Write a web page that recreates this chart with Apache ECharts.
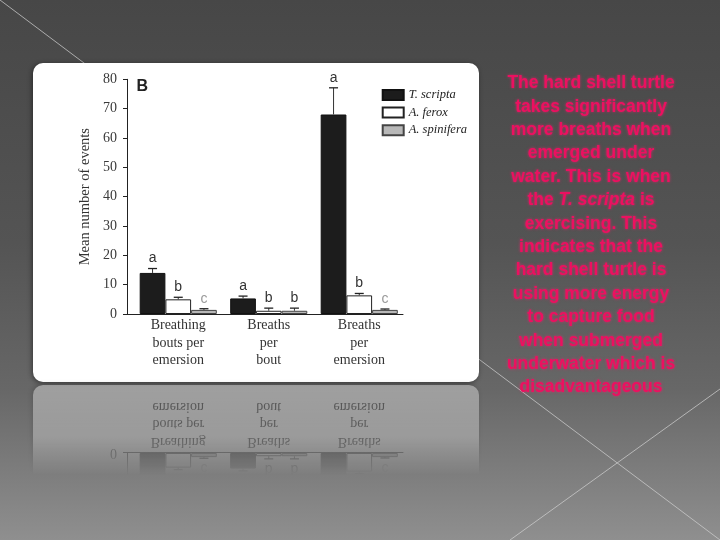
<!DOCTYPE html>
<html><head><meta charset="utf-8">
<script src="https://cdn.jsdelivr.net/npm/echarts@6/dist/echarts.min.js"></script>
<style>
html,body{margin:0;padding:0;width:720px;height:540px;overflow:hidden;background:#555}
#main{position:absolute;left:0;top:0;width:720px;height:540px}
#refl{position:absolute;left:0;top:0;width:720px;height:540px;transform-origin:0 383.5px;transform:scaleY(-1);opacity:0.38;pointer-events:none;
-webkit-mask-image:linear-gradient(to bottom, rgba(0,0,0,0) 0px, rgba(0,0,0,0) 292px, rgba(0,0,0,0.75) 330px, rgba(0,0,0,1) 383px);
mask-image:linear-gradient(to bottom, rgba(0,0,0,0) 0px, rgba(0,0,0,0) 292px, rgba(0,0,0,0.75) 330px, rgba(0,0,0,1) 383px);}
</style></head><body><div id="main"></div><div id="refl"></div>
<script>
// ---- data ----
const categories = ['Breathing\nbouts per\nemersion', 'Breaths\nper\nbout', 'Breaths\nper\nemersion'];
const seriesNames = ['T. scripta', 'A. ferox', 'A. spinifera'];
const tScripta = [14.0, 5.3, 68.0];
const aFerox = [5.0, 1.1, 6.35];
const aSpinifera = [1.4, 1.1, 1.4];
const tScriptaErrTop = [15.5, 6.1, 77.1];
const aFeroxErrTop = [5.7, 2.0, 7.0];
const aSpiniferaErrTop = [1.8, 2.0, 1.7];
const tScriptaLetters = ['a', 'a', 'a'];
const aFeroxLetters = ['b', 'b', 'b'];
const aSpiniferaLetters = ['c', 'b', 'c'];
const yMin = 0, yMax = 80, yStep = 10;
const yAxisTitle = 'Mean number of events';
const panelLabel = 'B';
const noteLines = [
  'The hard shell turtle',
  'takes significantly',
  'more breaths when',
  'emerged under',
  'water. This is when',
  'the {i|T. scripta} is',
  'exercising. This',
  'indicates that the',
  'hard shell turtle is',
  'using more energy',
  'to capture food',
  'when submerged',
  'underwater which is',
  'disadvantageous'
];

// ---- styling ----
const BAR_W = 25.7;
const serif = '"Liberation Serif", "DejaVu Serif", serif';
const sans = '"Liberation Sans", Arial, sans-serif';
const means = [tScripta, aFerox, aSpinifera];
const errs = [tScriptaErrTop, aFeroxErrTop, aSpiniferaErrTop];
const letters = [tScriptaLetters, aFeroxLetters, aSpiniferaLetters];
const barStyles = [
  {color: '#1c1c1c', borderColor: '#111', borderWidth: 1},
  {color: '#ffffff', borderColor: '#222', borderWidth: 1},
  {color: '#b8b8b8', borderColor: '#444', borderWidth: 1}
];
const letterColors = {a: '#333', b: '#333', c: '#9a9a9a'};

function buildOption(reflect) {
  const series = [];
  seriesNames.forEach((name, s) => {
    series.push({
      name: name, type: 'bar', xAxisIndex: 0, yAxisIndex: 0,
      barWidth: BAR_W, barGap: '0%', data: means[s], itemStyle: barStyles[s],
      silent: true, animation: false, z: 20
    });
  });
  seriesNames.forEach((name, s) => {
    series.push({
      type: 'custom', xAxisIndex: 0, yAxisIndex: 0, z: 21, animation: false, silent: true,
      data: categories.map((c, i) => [i, means[s][i], errs[s][i]]),
      encode: {x: 0, y: [1, 2]},
      renderItem: function (params, api) {
        const i = api.value(0);
        const base = api.coord([i, api.value(1)]);
        const top = api.coord([i, api.value(2)]);
        const x = base[0] + (s - 1) * BAR_W;
        const letter = letters[s][params.dataIndex];
        return {
          type: 'group', children: [
            {type: 'line', shape: {x1: x, y1: base[1], x2: x, y2: top[1]}, style: {stroke: '#333', lineWidth: 1}},
            {type: 'line', shape: {x1: x - 4.5, y1: top[1], x2: x + 4.5, y2: top[1]}, style: {stroke: '#222', lineWidth: 1.3}},
            {type: 'text', x: x, y: top[1] - 10, style: {text: letter, fill: letterColors[letter], font: '14px ' + sans, align: 'center', verticalAlign: 'middle'}}
          ]
        };
      }
    });
  });

  const graphic = [];
  if (!reflect) {
    graphic.push({type: 'line', shape: {x1: 0, y1: 0, x2: 720, y2: 540}, style: {stroke: 'rgba(205,205,205,0.75)', lineWidth: 1}, z: -20});
    graphic.push({type: 'line', shape: {x1: 720, y1: 389, x2: 510, y2: 540}, style: {stroke: 'rgba(205,205,205,0.75)', lineWidth: 1}, z: -20});
  }
  graphic.push({type: 'rect', shape: {x: 33, y: 63, width: 446, height: 319, r: 10},
    style: {fill: '#ffffff', shadowBlur: 5, shadowColor: 'rgba(0,0,0,0.45)', shadowOffsetX: -1, shadowOffsetY: 1}, z: -10});
  graphic.push({type: 'text', x: 136.5, y: 86.5, style: {text: panelLabel, font: 'bold 16px ' + sans, fill: '#222', verticalAlign: 'middle'}, z: 30});
  if (!reflect) {
    graphic.push({type: 'text', x: 591, y: 71.6, z: 30,
      style: {
        text: noteLines.join('\n'), font: 'bold 17.5px ' + sans, fill: '#ec1060',
        align: 'center', verticalAlign: 'top', lineHeight: 23.4,
        textShadowBlur: 3, textShadowColor: 'rgba(255,30,110,0.7)',
        rich: {i: {font: 'italic bold 17.5px ' + sans, fill: '#ec1060', lineHeight: 23.4, textShadowBlur: 3, textShadowColor: 'rgba(255,30,110,0.7)'}}
      }});
  }

  const opt = {
    animation: false,
    backgroundColor: reflect ? 'transparent' : {
      type: 'linear', x: 0, y: 0, x2: 0, y2: 1,
      colorStops: [
        {offset: 0, color: '#474747'}, {offset: 0.45, color: '#545454'},
        {offset: 0.72, color: '#676767'}, {offset: 1, color: '#8f8f8f'}
      ]
    },
    graphic: graphic,
    legend: {
      show: true, orient: 'vertical', left: 376.7, top: 83, z: 30,
      itemWidth: 21, itemHeight: 10, itemGap: 3.6, itemTextGap: 4, icon: 'rect',
      data: seriesNames,
      textStyle: {fontFamily: serif, fontStyle: 'italic', fontSize: 12.5, color: '#222', lineHeight: 14}
    },
    grid: [
      {left: 133, top: 79.3, width: 271.5, height: 234.7},
      {left: 127, top: 79.3, width: 276, height: 234.7}
    ],
    xAxis: [
      {type: 'category', gridIndex: 0, data: categories, z: 25,
        axisLine: {show: false}, axisTick: {show: false},
        axisLabel: {margin: 3, fontFamily: serif, fontSize: 14, color: '#333', lineHeight: 17.5, interval: 0}},
      {type: 'value', gridIndex: 1, min: 0, max: 1, z: 25, axisLine: {show: true, onZero: false, lineStyle: {color: '#222', width: 1}},
        axisTick: {show: false}, axisLabel: {show: false}, splitLine: {show: false}}
    ],
    yAxis: [
      {type: 'value', gridIndex: 0, min: yMin, max: yMax, interval: yStep, show: false},
      {type: 'value', gridIndex: 1, min: yMin, max: yMax, interval: yStep, z: 25,
        axisLine: {show: true, onZero: false, lineStyle: {color: '#222', width: 1}},
        axisTick: {show: true, length: 4, lineStyle: {color: '#222'}},
        axisLabel: {margin: 10, fontFamily: serif, fontSize: 14, color: '#3a3a3a'},
        splitLine: {show: false},
        name: yAxisTitle, nameLocation: 'middle', nameGap: 34,
        nameTextStyle: {fontFamily: serif, fontSize: 14.5, color: '#333'}}
    ],
    series: series
  };
  return opt;
}

const mainChart = echarts.init(document.getElementById('main'), null, {renderer: 'canvas'});
mainChart.setOption(buildOption(false));
const reflChart = echarts.init(document.getElementById('refl'), null, {renderer: 'canvas'});
reflChart.setOption(buildOption(true));
</script>
</body></html>
